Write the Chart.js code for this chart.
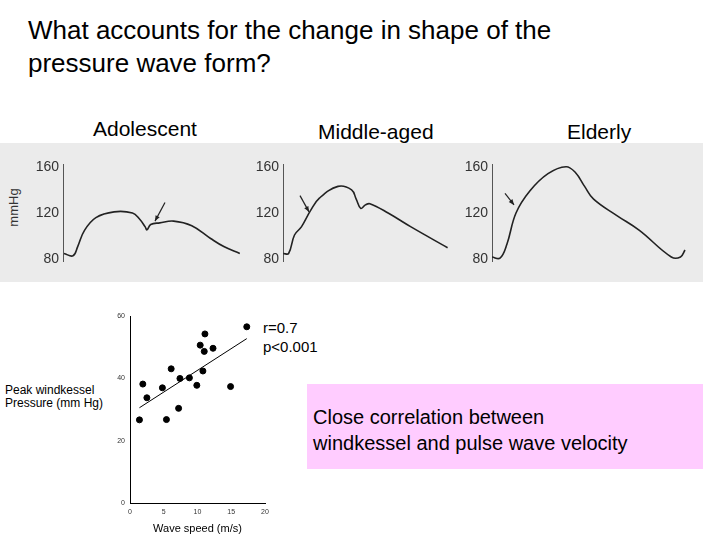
<!DOCTYPE html>
<html><head><meta charset="utf-8">
<script src="https://cdn.jsdelivr.net/npm/chart.js@4/dist/chart.umd.min.js"></script>
<style>
body{margin:0;width:720px;height:540px;background:#fff;position:relative;overflow:hidden;font-family:"Liberation Sans",Arial,sans-serif}
.t{position:absolute;color:#000;white-space:nowrap}
canvas{position:absolute}
</style></head><body>
<div class="t" style="left:28px;top:14px;font-size:26px;line-height:33px">What accounts for the change in shape of the<br>pressure wave form?</div>
<div class="t" style="left:93px;top:117px;font-size:21px">Adolescent</div>
<div class="t" style="left:318px;top:120px;font-size:21px">Middle-aged</div>
<div class="t" style="left:567px;top:120px;font-size:21px">Elderly</div>
<div style="position:absolute;left:0;top:143px;width:703px;height:139px;background:#ebebeb"></div>
<div class="t" style="left:-6px;top:200px;font-size:13px;color:#333;transform:rotate(-90deg)">mmHg</div>
<canvas id="w1" width="210" height="116" style="left:33px;top:155px;width:210px;height:116px"></canvas>
<canvas id="w2" width="200" height="116" style="left:253px;top:155px;width:200px;height:116px"></canvas>
<canvas id="w3" width="238" height="116" style="left:462px;top:155px;width:238px;height:116px"></canvas>
<div class="t" style="left:263px;top:318px;font-size:15px;line-height:19px">r=0.7<br>p&lt;0.001</div>
<div class="t" style="left:5px;top:384px;font-size:12px;line-height:13px">Peak windkessel<br>Pressure (mm Hg)</div>
<div style="position:absolute;left:307px;top:384px;width:396px;height:85px;background:#ffccff"></div>
<div class="t" style="left:313px;top:404px;font-size:20px;line-height:26px">Close correlation between<br>windkessel and pulse wave velocity</div>
<canvas id="sc" width="172" height="230" style="left:100px;top:310px;width:172px;height:230px"></canvas>
<script>
// waveform data (time in px units, pressure mmHg)
const adolT=[64,73,77.7,84.5,95.9,114.1,132.5,139.3,145.2,147,150.7,159.8,173.6,191.8,210.6,223.8,239.8];
const adolP=[85,83,91,105,116,121,120,115,108,105.5,110,111.5,113,109,98,91,85];
const midT=[283.2,288.6,294.5,301.4,310.5,319.6,338,351.6,356.2,360.7,365.4,369.9,388.1,411,447.6];
const midP=[85,85,101,108,122,133,143,140,132,124,127,128,120,108,90];
const oldT=[491.8,500,506.9,516,529.8,548,566,575.4,584.6,593.6,616.5,639.4,671.3,680.5,685];
const oldP=[82,81,93,120,139,154,160,155,143,132,118,105,82,82,88];
const pTicks=[80,120,160];
// arrows: [fromT, fromP, toT, toP]
const arrow1=[165,129,155,113], arrow2=[300,135,309,121], arrow3=[505,137,514,127];
// scatter data
const speed=[1.4,1.9,2.5,4.8,5.4,6.1,7.2,7.4,8.8,9.9,10.4,10.8,11.0,11.1,12.3,14.9,17.3];
const windP=[26.7,38.2,33.8,37.0,26.8,43.1,30.4,40.0,40.2,37.8,50.7,42.4,48.7,54.3,49.7,37.4,56.6];
const fitX=[1.4,17.3], fitY=[30.6,52.8];
const xTicks=[0,5,10,15,20], yTicks=[0,20,40,60];

const arrowPlugin={id:'arr',afterDatasetsDraw(c,a,o){const x=c.scales.x,y=c.scales.y,g=c.ctx,A=o.a;
  const x1=x.getPixelForValue(A[0]),y1=y.getPixelForValue(A[1]),x2=x.getPixelForValue(A[2]),y2=y.getPixelForValue(A[3]);
  g.save();g.strokeStyle='#222';g.fillStyle='#222';g.lineWidth=1.2;g.beginPath();g.moveTo(x1,y1);g.lineTo(x2,y2);g.stroke();
  const ang=Math.atan2(y2-y1,x2-x1);g.beginPath();g.moveTo(x2,y2);
  g.lineTo(x2-6*Math.cos(ang-0.4),y2-6*Math.sin(ang-0.4));g.lineTo(x2-6*Math.cos(ang+0.4),y2-6*Math.sin(ang+0.4));g.fill();g.restore();}};

function wave(id,T,P,xmin,xmax,arr){
  new Chart(document.getElementById(id),{type:'line',
    data:{datasets:[{data:T.map((t,i)=>({x:t,y:P[i]})),borderColor:'#222',borderWidth:1.6,pointRadius:0,tension:0.4,fill:false}]},
    plugins:[arrowPlugin],
    options:{animation:false,responsive:false,plugins:{legend:{display:false},tooltip:{enabled:false},arr:{a:arr}},
      layout:{padding:0},
      scales:{x:{type:'linear',min:xmin,max:xmax,display:false},
        y:{min:78,max:162,afterFit:s=>{s.width=30},afterBuildTicks:s=>{s.ticks=pTicks.map(v=>({value:v}))},
          grid:{display:false,drawTicks:true,tickLength:3},border:{display:true,color:'#555'},
          ticks:{color:'#333',font:{size:14,family:'Liberation Sans Narrow, Liberation Sans'},padding:1}}}}});
}
wave('w1',adolT,adolP,63,243,arrow1);
wave('w2',midT,midP,283,453,arrow2);
wave('w3',oldT,oldP,492,700,arrow3);

new Chart(document.getElementById('sc'),{type:'scatter',
  data:{datasets:[
    {data:speed.map((s,i)=>({x:s,y:windP[i]})),backgroundColor:'#000',borderColor:'#000',pointRadius:3,pointStyle:'circle'},
    {type:'line',data:fitX.map((x,i)=>({x:x,y:fitY[i]})),borderColor:'#000',borderWidth:1,pointRadius:0}]},
  options:{animation:false,responsive:false,plugins:{legend:{display:false},tooltip:{enabled:false}},
    layout:{padding:{top:6,right:7,left:0,bottom:0}},
    scales:{x:{type:'linear',min:0,max:20,afterFit:s=>{s.height=37},afterBuildTicks:s=>{s.ticks=xTicks.map(v=>({value:v}))},
        grid:{display:false,drawTicks:true,tickLength:3},border:{color:'#000'},
        ticks:{color:'#333',font:{size:7},padding:2},
        title:{display:true,text:'Wave speed (m/s)',font:{size:11},color:'#000',padding:{top:6}}},
      y:{min:0,max:60,afterFit:s=>{s.width=30},afterBuildTicks:s=>{s.ticks=yTicks.map(v=>({value:v}))},
        grid:{display:false,drawTicks:true,tickLength:3},border:{color:'#000'},
        ticks:{color:'#333',font:{size:7},padding:2}}}}});
</script>
</body></html>
